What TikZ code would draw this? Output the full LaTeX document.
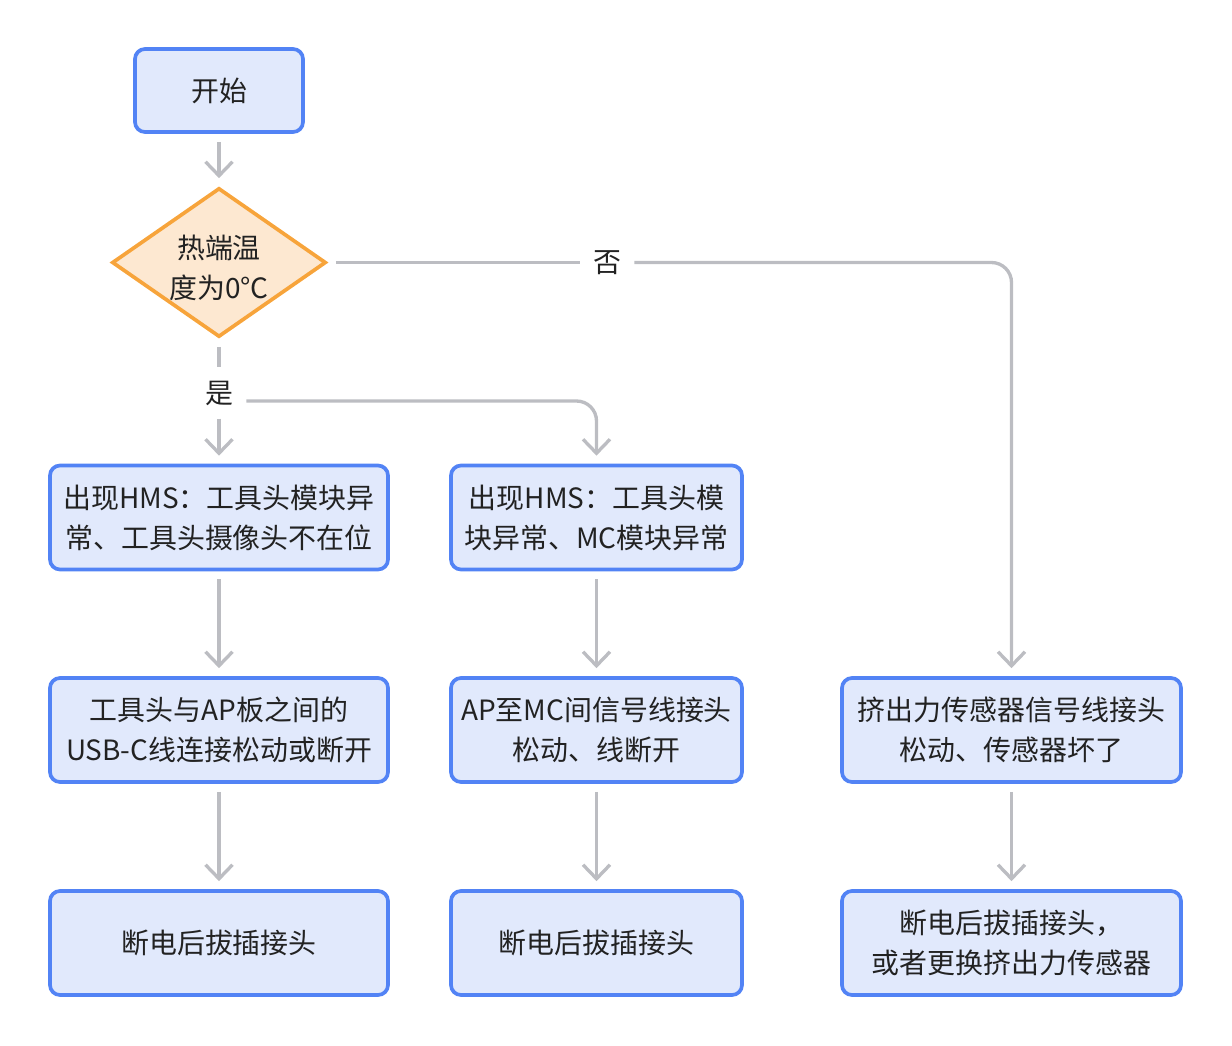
\documentclass[tikz,border=0pt]{standalone}
\usepackage{fontspec}
\setmainfont{Noto Sans CJK SC}
\usetikzlibrary{shapes.geometric,arrows.meta}
\definecolor{boxfill}{HTML}{E1E9FC}
\definecolor{boxline}{HTML}{5283F5}
\definecolor{decfill}{HTML}{FDE8D1}
\definecolor{decline}{HTML}{F7A43B}
\definecolor{linkgray}{HTML}{BCBDC2}
\definecolor{txt}{HTML}{222222}
\tikzset{
  stepbox/.style={draw=boxline,fill=boxfill,line width=2.1pt,rounded corners=0.2cm,
    minimum height=2.08cm,align=center,text=txt},
  decision/.style={diamond,draw=decline,fill=decfill,line width=2.1pt,inner sep=0pt,
    minimum width=4.28cm,minimum height=2.98cm},
  link/.style={draw=linkgray,line width=1.9pt,shorten <=0.16cm,shorten >=0.16cm,
    rounded corners=0.4cm},
  arr/.style={link,-{Straight Barb[length=2.8mm,width=5.4mm,line width=1.9pt]}},
  lbl/.style={text=txt,inner sep=0.1cm}
}
\begin{document}
\begin{tikzpicture}[font=\fontsize{15.9}{22.7}\selectfont]
  \useasboundingbox (0,0) rectangle (24.64,-20.92);
  % start and check
  \node[stepbox,minimum width=3.36cm,minimum height=1.66cm] (start) at (4.38,-1.81) {开始};
  \node[decision] (chk) at (4.38,-5.25) {};
  \node[align=center,text=txt] at ([yshift=-0.1cm]chk.center) {热端温\\度为0°C};
  \node[lbl] (yes) at (4.38,-7.86) {是};
  \node[lbl] (no) at (12.14,-5.25) {否};
  % left column
  \node[stepbox,minimum width=6.76cm] (a1) at (4.38,-10.35) {出现HMS：工具头模块异\\常、工具头摄像头不在位};
  \node[stepbox,minimum width=6.76cm] (a2) at (4.38,-14.6) {工具头与AP板之间的\\USB-C线连接松动或断开};
  \node[stepbox,minimum width=6.76cm] (a3) at (4.38,-18.86) {断电后拔插接头};
  % middle column
  \node[stepbox,minimum width=5.82cm] (b1) at (11.93,-10.35) {出现HMS：工具头模\\块异常、MC模块异常};
  \node[stepbox,minimum width=5.82cm] (b2) at (11.93,-14.6) {AP至MC间信号线接头\\松动、线断开};
  \node[stepbox,minimum width=5.82cm] (b3) at (11.93,-18.86) {断电后拔插接头};
  % right column
  \node[stepbox,minimum width=6.78cm] (c2) at (20.23,-14.6) {挤出力传感器信号线接头\\松动、传感器坏了};
  \node[stepbox,minimum width=6.78cm] (c3) at (20.23,-18.86) {断电后拔插接头，\\或者更换挤出力传感器};
  % connectors
  \draw[arr] (start) -- (chk);
  \draw[link] (chk) -- (yes);
  \draw[arr] (yes) -- (a1);
  \draw[arr] ([yshift=-0.16cm]yes.east) -| (b1);
  \draw[link] (chk) -- (no);
  \draw[arr] (no) -| (c2);
  \draw[arr] (a1) -- (a2);
  \draw[arr] (a2) -- (a3);
  \draw[arr] (b1) -- (b2);
  \draw[arr] (b2) -- (b3);
  \draw[arr] (c2) -- (c3);
\end{tikzpicture}
\end{document}
